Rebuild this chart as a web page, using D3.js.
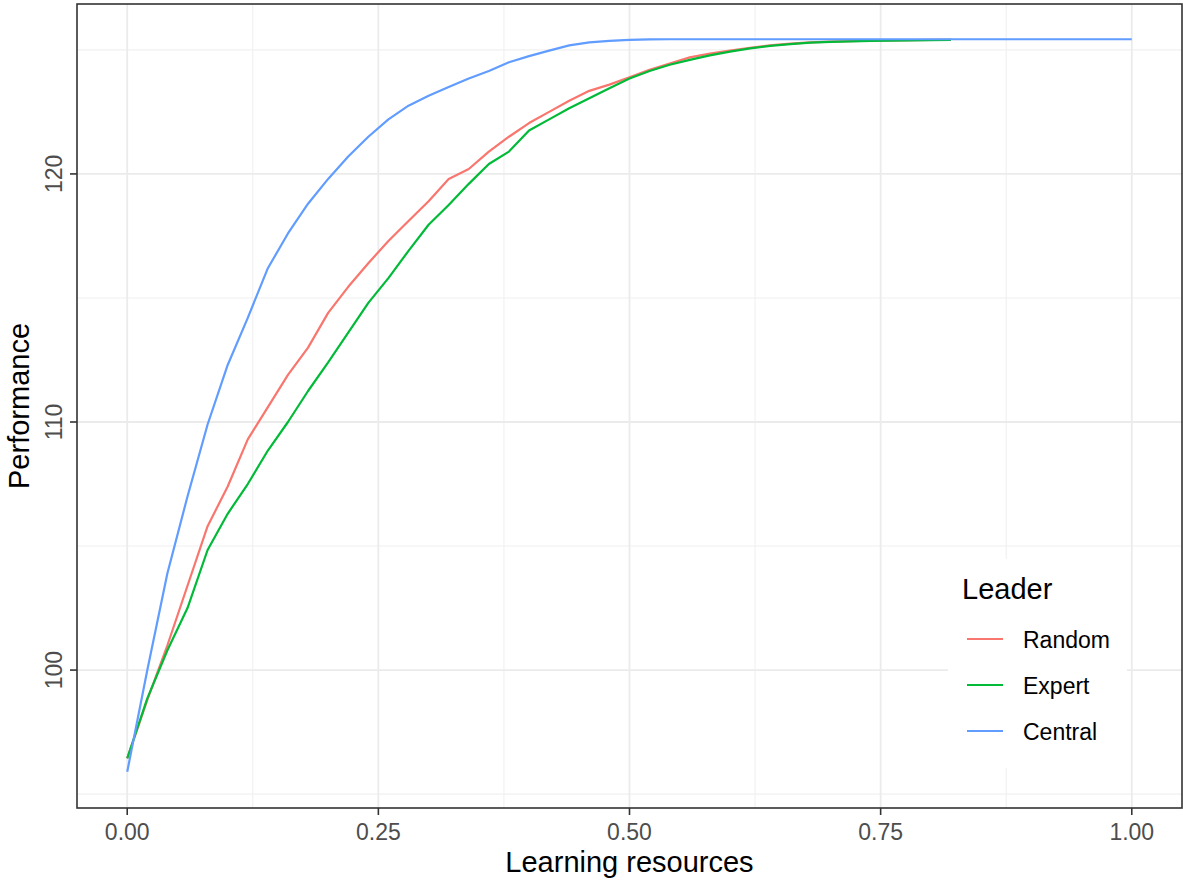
<!DOCTYPE html>
<html lang="en">
<head>
  <meta charset="UTF-8">
  <title>Performance vs learning resources</title>
  <script src="https://cdnjs.cloudflare.com/ajax/libs/d3/7.8.5/d3.min.js"></script>
  <style>
    body { margin: 0; background: #fff; }
    svg { font-family: "Liberation Sans", Arial, sans-serif; }
    .grid-major { stroke: #EBEBEB; stroke-width: 1.8px; }
    .grid-minor { stroke: #F0F0F0; stroke-width: 1.1px; }
    .tick-label { fill: #4D4D4D; font-size: 23px; }
    .axis-title { fill: #000; font-size: 29px; }
    .series { fill: none; stroke-width: 2.2px; stroke-linejoin: round; }
  </style>
</head>
<body>
  <svg width="1183" height="882"></svg>
  <script>
    // x values: learning resources, sampled every 0.02
    const xCentral = d3.range(0, 51).map(i => +(i * 0.02).toFixed(2))
    const xShort = d3.range(0, 42).map(i => +(i * 0.02).toFixed(2))

    const random = [
      96.44, 98.8, 101.0, 103.4, 105.8, 107.4, 109.3, 110.6, 111.9, 113.0,
      114.4, 115.45, 116.4, 117.3, 118.1, 118.9, 119.8, 120.2, 120.9, 121.5,
      122.05, 122.5, 122.95, 123.35, 123.6, 123.9, 124.2, 124.45, 124.7, 124.85,
      124.97, 125.08, 125.18, 125.25, 125.3, 125.33, 125.35, 125.37, 125.38, 125.39,
      125.4, 125.4
    ]
    const expert = [
      96.44, 98.86, 100.8, 102.5, 104.84, 106.3, 107.5, 108.85, 110.0, 111.25,
      112.4, 113.6, 114.8, 115.8, 116.9, 117.95, 118.75, 119.6, 120.4, 120.9,
      121.75, 122.2, 122.65, 123.05, 123.45, 123.85, 124.15, 124.4, 124.6, 124.78,
      124.93, 125.06, 125.16, 125.23, 125.29, 125.32, 125.34, 125.36, 125.37, 125.38,
      125.39, 125.4
    ]
    const central = [
      95.9, 100.0, 103.9, 107.0, 109.9, 112.3, 114.2, 116.2, 117.6, 118.8,
      119.8, 120.7, 121.5, 122.2, 122.75, 123.15, 123.5, 123.85, 124.15, 124.5,
      124.75, 124.97, 125.18, 125.3, 125.36, 125.4, 125.42, 125.43, 125.43, 125.43,
      125.43, 125.43, 125.43, 125.43, 125.43, 125.43, 125.43, 125.43, 125.43, 125.43,
      125.43, 125.43, 125.43, 125.43, 125.43, 125.43, 125.43, 125.43, 125.43, 125.43,
      125.43
    ]

    const leaders = ["Random", "Expert", "Central"]
    const colours = ["#F8766D", "#00BA38", "#619CFF"]

    const xTicks = [0, 0.25, 0.5, 0.75, 1]
    const xMinor = [0.125, 0.375, 0.625, 0.875]
    const yTicks = [100, 110, 120]
    const yMinor = [95, 105, 115, 125]

    const series = [
      { name: "Random", xs: xShort, ys: random },
      { name: "Expert", xs: xShort, ys: expert },
      { name: "Central", xs: xCentral, ys: central }
    ]

    // panel box
    const panel = { left: 77, top: 4, right: 1182, bottom: 808 }

    const x = d3.scaleLinear().domain([-0.05, 1.05]).range([panel.left, panel.right])
    const y = d3.scaleLinear().domain([94.44, 126.85]).range([panel.bottom, panel.top])
    const colour = d3.scaleOrdinal().domain(leaders).range(colours)

    const svg = d3.select("svg")

    // grid lines
    const grid = svg.append("g")
    grid.selectAll(".vminor").data(xMinor).join("line")
      .attr("class", "grid-minor")
      .attr("x1", d => x(d)).attr("x2", d => x(d))
      .attr("y1", panel.top).attr("y2", panel.bottom)
    grid.selectAll(".hminor").data(yMinor).join("line")
      .attr("class", "grid-minor")
      .attr("x1", panel.left).attr("x2", panel.right)
      .attr("y1", d => y(d)).attr("y2", d => y(d))
    grid.selectAll(".vmajor").data(xTicks).join("line")
      .attr("class", "grid-major")
      .attr("x1", d => x(d)).attr("x2", d => x(d))
      .attr("y1", panel.top).attr("y2", panel.bottom)
    grid.selectAll(".hmajor").data(yTicks).join("line")
      .attr("class", "grid-major")
      .attr("x1", panel.left).attr("x2", panel.right)
      .attr("y1", d => y(d)).attr("y2", d => y(d))

    // lines
    const line = d3.line().x(d => x(d[0])).y(d => y(d[1]))
    svg.append("g").selectAll("path").data(series).join("path")
      .attr("class", "series")
      .attr("stroke", d => colour(d.name))
      .attr("d", d => line(d.xs.map((v, i) => [v, d.ys[i]])))

    // legend
    const lg = svg.append("g")
    lg.append("rect")
      .attr("x", 948).attr("y", 559).attr("width", 179).attr("height", 209)
      .attr("fill", "#fff")
    lg.append("text")
      .attr("x", 962).attr("y", 599)
      .attr("font-size", "29px")
      .text("Leader")
    leaders.forEach((name, i) => {
      const ky = 639 + i * 46
      lg.append("line")
        .attr("x1", 967).attr("x2", 1003)
        .attr("y1", ky).attr("y2", ky)
        .attr("stroke", colour(name)).attr("stroke-width", 2.2)
      lg.append("text")
        .attr("x", 1023).attr("y", ky + 9)
        .attr("font-size", "23px")
        .text(name)
    })

    // panel border
    svg.append("rect")
      .attr("x", panel.left).attr("y", panel.top)
      .attr("width", panel.right - panel.left).attr("height", panel.bottom - panel.top)
      .attr("fill", "none").attr("stroke", "#333333").attr("stroke-width", 1.6)

    // x axis
    const xAxis = svg.append("g")
    xAxis.selectAll("line").data(xTicks).join("line")
      .attr("x1", d => x(d)).attr("x2", d => x(d))
      .attr("y1", panel.bottom).attr("y2", panel.bottom + 7)
      .attr("stroke", "#333333").attr("stroke-width", 1.6)
    xAxis.selectAll("text").data(xTicks).join("text")
      .attr("class", "tick-label")
      .attr("x", d => x(d)).attr("y", 840)
      .attr("text-anchor", "middle")
      .text(d3.format(".2f"))

    // y axis
    const yAxis = svg.append("g")
    yAxis.selectAll("line").data(yTicks).join("line")
      .attr("x1", panel.left - 7).attr("x2", panel.left)
      .attr("y1", d => y(d)).attr("y2", d => y(d))
      .attr("stroke", "#333333").attr("stroke-width", 1.6)
    yAxis.selectAll("text").data(yTicks).join("text")
      .attr("class", "tick-label")
      .attr("transform", d => `translate(62,${y(d)}) rotate(-90)`)
      .attr("text-anchor", "middle")
      .text(d => d)

    // axis titles
    svg.append("text")
      .attr("class", "axis-title")
      .attr("x", (panel.left + panel.right) / 2).attr("y", 872)
      .attr("text-anchor", "middle")
      .text("Learning resources")
    svg.append("text")
      .attr("class", "axis-title")
      .attr("transform", `translate(29,${(panel.top + panel.bottom) / 2}) rotate(-90)`)
      .attr("text-anchor", "middle")
      .text("Performance")
  </script>
</body>
</html>
